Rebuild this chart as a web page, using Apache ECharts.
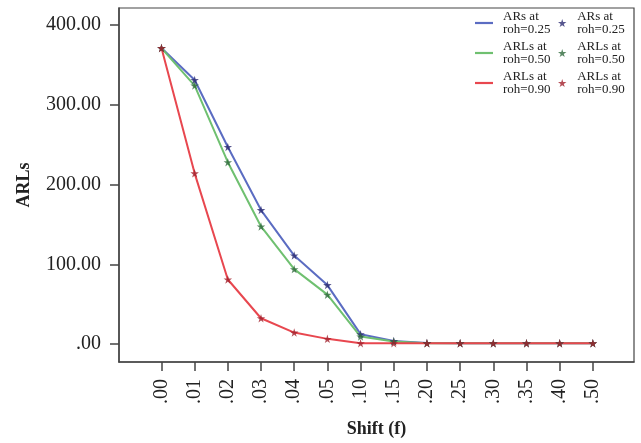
<!DOCTYPE html>
<html>
<head>
<meta charset="utf-8">
<script src="https://cdn.jsdelivr.net/npm/echarts@6/dist/echarts.min.js"></script>
<style>html,body{margin:0;padding:0;background:#fff}#c{width:641px;height:443px}</style>
</head>
<body>
<div id="c"></div>
<script>
var categories = ['.00','.01','.02','.03','.04','.05','.10','.15','.20','.25','.30','.35','.40','.50'];
var roh025 = [371, 331, 247, 168, 111, 74, 12.5, 4, 1.5, 1, 1, 1, 1, 1];
var roh050 = [371, 324, 228, 147.5, 94, 62, 9.5, 3.3, 1.2, 1, 1, 1, 1, 1];
var roh090 = [371, 214, 81, 32.4, 14.5, 6.6, 1, 1, 1, 1, 1, 1, 1, 1];
var yTickValues = [0, 100, 200, 300, 400];
var yTickLabels = ['.00', '100.00', '200.00', '300.00', '400.00'];
var seriesNames = ['ARs at\nroh=0.25', 'ARLs at\nroh=0.50', 'ARLs at\nroh=0.90'];

var lineColors = ['#5b6cc2', '#6fc070', '#e8474f'];
var starColors = ['#2c2c72', '#2f6a3c', '#a3202c'];
var STAR = 'path://M50,0 L61,35 L98,35 L68,57 L79,91 L50,70 L21,91 L32,57 L2,35 L39,35 Z';
var FONT = '"Liberation Serif", "DejaVu Serif", serif';

function pairs(arr) { return arr.map(function (v, i) { return [i, v]; }); }
var allValues = [roh025, roh050, roh090];
var xIdx = categories.map(function (c, i) { return i; });

var series = [];
allValues.forEach(function (vals, k) {
  series.push({
    name: 'L' + k, type: 'line', data: pairs(vals), symbol: 'none',
    lineStyle: { color: lineColors[k], width: 2 }, itemStyle: { color: lineColors[k] },
    z: 2
  });
});
allValues.forEach(function (vals, k) {
  series.push({
    name: 'S' + k, type: 'scatter', data: pairs(vals), symbol: STAR, symbolSize: 8.5,
    itemStyle: { color: starColors[k] }, z: 3
  });
});

function legendFmt(n) { return seriesNames[+n.slice(1)]; }
var legendText = { fontFamily: FONT, fontSize: 13, lineHeight: 13, color: '#222', padding: [14, 0, 0, 5] };

var chart = echarts.init(document.getElementById('c'), null, { renderer: 'canvas' });
chart.setOption({
  animation: false,
  backgroundColor: '#fff',
  grid: { left: 119, right: 7, top: 8, bottom: 79, show: true, borderColor: '#444', borderWidth: 1.2, backgroundColor: 'transparent' },
  legend: [
    { data: [{ name: 'L0', icon: 'rect' }, { name: 'L1', icon: 'rect' }, { name: 'L2', icon: 'rect' }],
      orient: 'vertical', left: 470, top: -2, itemWidth: 18, itemHeight: 2.2, itemGap: -10,
      formatter: legendFmt, textStyle: legendText, selectedMode: false },
    { data: ['S0', 'S1', 'S2'], orient: 'vertical', left: 553, top: -2, itemWidth: 10, itemHeight: 8, itemGap: -10,
      formatter: legendFmt, textStyle: legendText, selectedMode: false }
  ],
  xAxis: {
    type: 'value', min: -1.28, max: 14.24,
    name: 'Shift (f)', nameLocation: 'middle', nameGap: 58,
    nameTextStyle: { fontFamily: FONT, fontSize: 18, fontWeight: 'bold', color: '#222' },
    axisLine: { show: true, onZero: false, lineStyle: { color: '#444', width: 1.5 } },
    axisTick: { show: true, length: 9, customValues: xIdx, lineStyle: { color: '#444', width: 1.5 } },
    axisLabel: { customValues: xIdx, rotate: 90, margin: 17, fontFamily: FONT, fontSize: 20, color: '#222',
      formatter: function (v) { return categories[Math.round(v)]; } },
    splitLine: { show: false }
  },
  yAxis: {
    type: 'value', min: -22.4, max: 421.2,
    name: 'ARLs', nameLocation: 'middle', nameGap: 86,
    nameTextStyle: { fontFamily: FONT, fontSize: 18, fontWeight: 'bold', color: '#222' },
    axisLine: { show: true, onZero: false, lineStyle: { color: '#444', width: 1.5 } },
    axisTick: { show: true, length: 9, customValues: yTickValues, lineStyle: { color: '#444', width: 1.5 } },
    axisLabel: { customValues: yTickValues, margin: 18, fontFamily: FONT, fontSize: 20, color: '#222',
      formatter: function (v) { return yTickLabels[yTickValues.indexOf(Math.round(v))]; } },
    splitLine: { show: false }
  },
  series: series
});
</script>
</body>
</html>
